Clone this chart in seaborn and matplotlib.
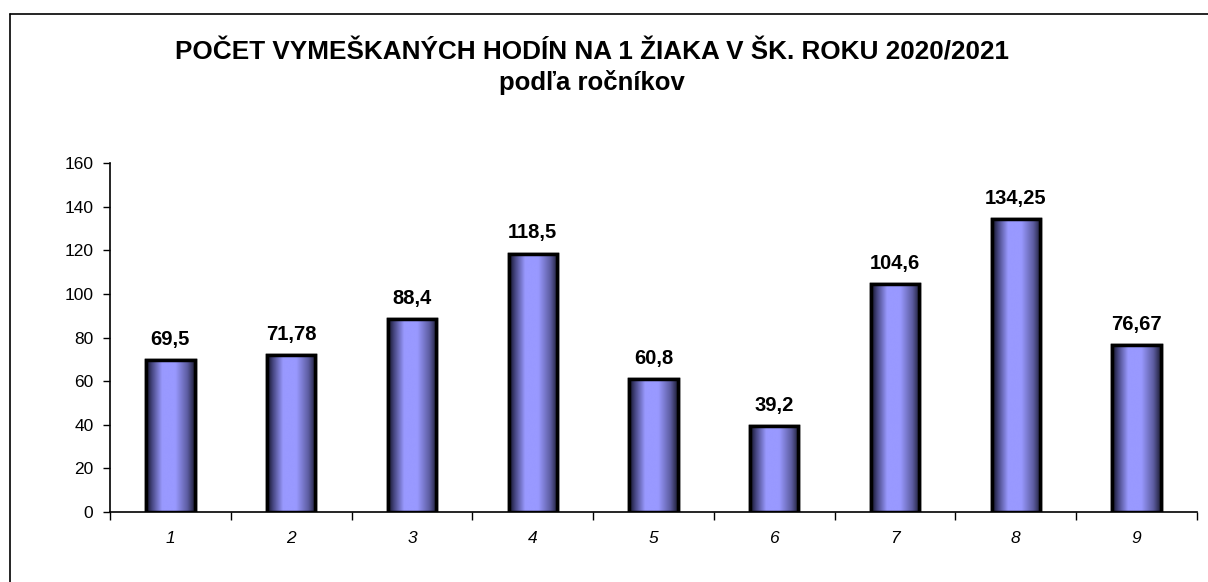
import numpy as np
import matplotlib
matplotlib.use("Agg")
import matplotlib.pyplot as plt
import seaborn as sns
from matplotlib.colors import LinearSegmentedColormap
from matplotlib.lines import Line2D

# data
rocniky = ["1", "2", "3", "4", "5", "6", "7", "8", "9"]
hodiny = [69.5, 71.78, 88.4, 118.5, 60.8, 39.2, 104.6, 134.25, 76.67]
y_ticks = [0, 20, 40, 60, 80, 100, 120, 140, 160]

title = "POČET VYMEŠKANÝCH HODÍN NA 1 ŽIAKA V ŠK. ROKU 2020/2021"
subtitle = "podľa ročníkov"

sns.set_style("white")
plt.rcParams["font.family"] = ["Liberation Sans", "DejaVu Sans"]
plt.rcParams["text.color"] = "black"
plt.rcParams["xtick.color"] = "black"
plt.rcParams["ytick.color"] = "black"

fig = plt.figure(figsize=(12.08, 5.82), dpi=100)
ax = fig.add_axes([0.0911, 0.1203, 0.8998, 0.5996])

sns.barplot(x=rocniky, y=hodiny, color="#9999ff", width=0.4,
            edgecolor="black", linewidth=2.5, ax=ax, zorder=3)

# cylinder-like shading inside each bar
shade = LinearSegmentedColormap.from_list("shade", [
    (0.0, "#101020"), (0.12, "#45457f"), (0.33, "#9999ff"),
    (0.6, "#9999ff"), (0.85, "#5c5ca0"), (1.0, "#1c1c34")])
grad = np.linspace(0, 1, 256).reshape(1, -1)
for p in list(ax.patches):
    x0, y0 = p.get_x(), p.get_y()
    w, h = p.get_width(), p.get_height()
    im = ax.imshow(grad, cmap=shade, aspect="auto", extent=[x0, x0 + w, y0, y0 + h],
                   zorder=3.5, interpolation="bicubic")
    im.set_clip_path(p)
    ax.add_patch(plt.Rectangle((x0, y0), w, h, fill=False, edgecolor="black",
                               linewidth=2.5, zorder=4))

for i, v in enumerate(hodiny):
    ax.annotate(f"{v:g}".replace(".", ","), (i, v), xytext=(0, 8),
                textcoords="offset points", ha="center", va="bottom",
                fontsize=14.5, fontweight="bold", color="black")

ax.set_xlim(-0.5, 8.5)
ax.set_ylim(0, 160)
ax.set_yticks(y_ticks)
ax.set_xticks(np.arange(-0.5, 9, 1), minor=True)
ax.tick_params(axis="x", which="major", bottom=True, length=0, pad=14, labelsize=12.5)
ax.tick_params(axis="x", which="minor", bottom=True, length=6, width=1, direction="out")
ax.tick_params(axis="y", left=True, length=5, width=1, direction="out",
               labelsize=12.5, pad=7)
for lbl in ax.get_xticklabels():
    lbl.set_fontstyle("italic")
ax.set_xlabel("")
ax.set_ylabel("")
sns.despine(ax=ax)
for s in ["left", "bottom"]:
    ax.spines[s].set_color("black")
    ax.spines[s].set_linewidth(1.2)

fig.text(0.49, 1 - 52 / 582, title, ha="center", va="center", fontsize=18.8, fontweight="bold")
fig.text(0.49, 1 - 83 / 582, subtitle, ha="center", va="center", fontsize=18.5, fontweight="bold")

# outer frame of the chart object
fig.add_artist(Line2D([10 / 1208, 1.0], [1 - 14 / 582, 1 - 14 / 582], color="black", lw=1.2))
fig.add_artist(Line2D([10 / 1208, 10 / 1208], [0, 1 - 14 / 582], color="black", lw=1.2))

fig.savefig("out.png", dpi=100, facecolor="white")
